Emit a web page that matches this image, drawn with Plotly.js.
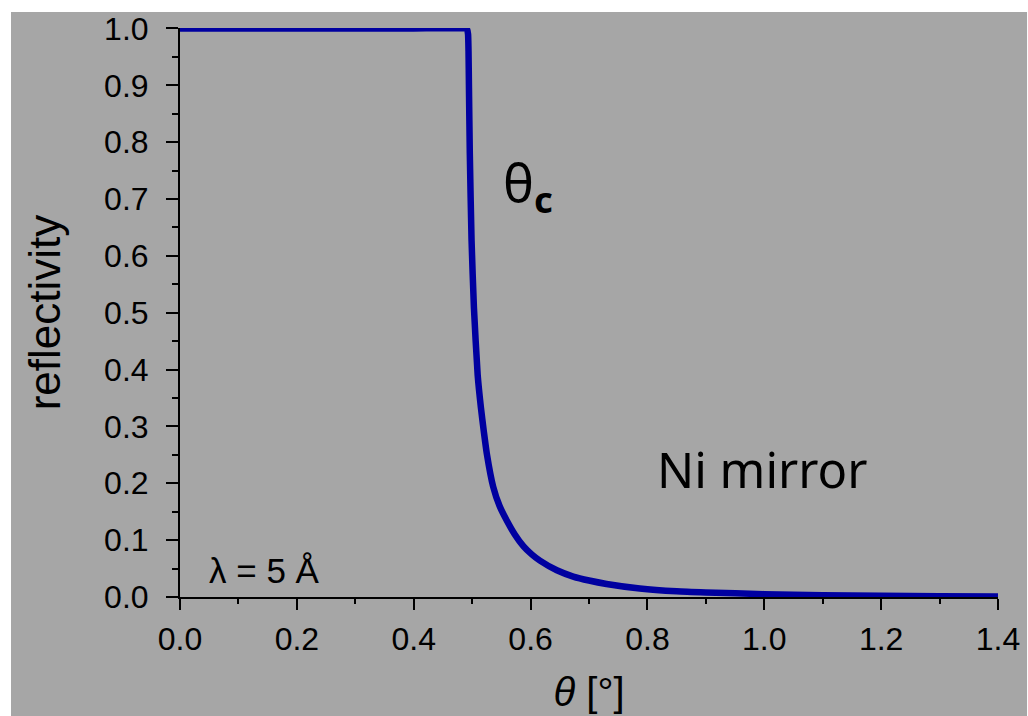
<!DOCTYPE html>
<html>
<head>
<meta charset="utf-8">
<script src="https://cdn.plot.ly/plotly-3.0.1.min.js"></script>
<style>
  html, body { margin: 0; padding: 0; background: #ffffff; width: 1028px; height: 716px; overflow: hidden; }
  #chart { width: 1028px; height: 716px; }
</style>
</head>
<body>
<div id="chart"></div>
<script>
// Values
const theta = [0.000, 0.100, 0.200, 0.300, 0.400, 0.488, 0.4915, 0.4930, 0.4938, 0.4945, 0.4960, 0.4990, 0.5030, 0.5095, 0.5150, 0.5200, 0.5250, 0.5360, 0.5470, 0.5590, 0.5730, 0.5880, 0.6020, 0.6160, 0.6450, 0.6730, 0.7000, 0.7300, 0.7870, 0.8500, 0.9000, 1.0000, 1.1000, 1.2000, 1.3000, 1.4000];
const reflectivity = [1.000, 1.000, 1.000, 1.000, 1.000, 1.000, 0.998, 0.990, 0.960, 0.900, 0.780, 0.627, 0.510, 0.390, 0.333, 0.291, 0.253, 0.194, 0.160, 0.135, 0.110, 0.089, 0.075, 0.064, 0.047, 0.036, 0.029, 0.023, 0.015, 0.010, 0.008, 0.005, 0.003, 0.002, 0.0015, 0.001];

const xTickVals = [0.0, 0.2, 0.4, 0.6, 0.8, 1.0, 1.2, 1.4];
const xTickText = ['0.0', '0.2', '0.4', '0.6', '0.8', '1.0', '1.2', '1.4'];
const yTickVals = [0.0, 0.1, 0.2, 0.3, 0.4, 0.5, 0.6, 0.7, 0.8, 0.9, 1.0];
const yTickText = ['0.0', '0.1', '0.2', '0.3', '0.4', '0.5', '0.6', '0.7', '0.8', '0.9', '1.0'];

const gray = '#a6a6a6';
const axisFont = { family: 'Liberation Sans, Arial, sans-serif', size: 32, color: '#000000' };

const trace = {
  x: theta,
  y: reflectivity,
  type: 'scatter',
  mode: 'lines',
  cliponaxis: false,
  line: { color: '#0000a0', width: 6.5, shape: 'spline', smoothing: 0.5 },
  hoverinfo: 'skip'
};

const layout = {
  width: 1028,
  height: 716,
  paper_bgcolor: '#ffffff',
  plot_bgcolor: gray,
  showlegend: false,
  margin: { l: 180, r: 30, t: 28, b: 119 },
  shapes: [
    {
      type: 'rect', xref: 'paper', yref: 'paper', layer: 'below',
      x0: -0.2066, x1: 1.0355, y0: -0.2100, y1: 1.0281,
      fillcolor: gray, line: { width: 0 }
    }
  ],
  xaxis: {
    range: [0, 1.4],
    tickmode: 'array',
    tickvals: xTickVals,
    ticktext: xTickText,
    ticks: 'outside',
    ticklen: 11,
    tickwidth: 2,
    tickcolor: '#000',
    minor: { dtick: 0.1, ticks: 'outside', ticklen: 5, tickwidth: 2, tickcolor: '#000', showgrid: false },
    showline: true,
    linecolor: '#000',
    linewidth: 2,
    showgrid: false,
    zeroline: false,
    tickfont: axisFont,
    ticklabelstandoff: 2,
    ticklabeloverflow: 'allow',
    title: { text: '<i>θ</i> [°]', font: { family: 'Liberation Sans, Arial, sans-serif', size: 40, color: '#000' }, standoff: 22 }
  },
  yaxis: {
    range: [0, 1.0008],
    tickmode: 'array',
    tickvals: yTickVals,
    ticktext: yTickText,
    ticks: 'outside',
    ticklen: 12,
    tickwidth: 2,
    tickcolor: '#000',
    minor: { dtick: 0.05, ticks: 'outside', ticklen: 6, tickwidth: 2, tickcolor: '#000', showgrid: false },
    showline: true,
    linecolor: '#000',
    linewidth: 2,
    showgrid: false,
    zeroline: false,
    tickfont: axisFont,
    ticklabelstandoff: 11,
    ticklabeloverflow: 'allow',
    title: { text: 'reflectivity', font: { family: 'Liberation Sans, Arial, sans-serif', size: 44, color: '#000' }, standoff: 30 }
  },
  annotations: [
    {
      x: 0.595, y: 0.724, xref: 'x', yref: 'y',
      text: 'θ<sub><b>c</b></sub>',
      showarrow: false, xanchor: 'center', yanchor: 'middle',
      font: { family: 'Noto Sans, sans-serif', size: 52, color: '#000' }
    },
    {
      x: 0.996, y: 0.225, xref: 'x', yref: 'y',
      text: 'Ni mirror',
      showarrow: false, xanchor: 'center', yanchor: 'middle',
      font: { family: 'Noto Sans, sans-serif', size: 49, color: '#000' }
    },
    {
      x: 0.145, y: 0.047, xref: 'x', yref: 'y',
      text: 'λ = 5 Å',
      showarrow: false, xanchor: 'center', yanchor: 'middle',
      font: { family: 'Liberation Sans, Arial, sans-serif', size: 35, color: '#000' }
    }
  ]
};

Plotly.newPlot('chart', [trace], layout, { displayModeBar: false, staticPlot: true });
</script>
</body>
</html>
